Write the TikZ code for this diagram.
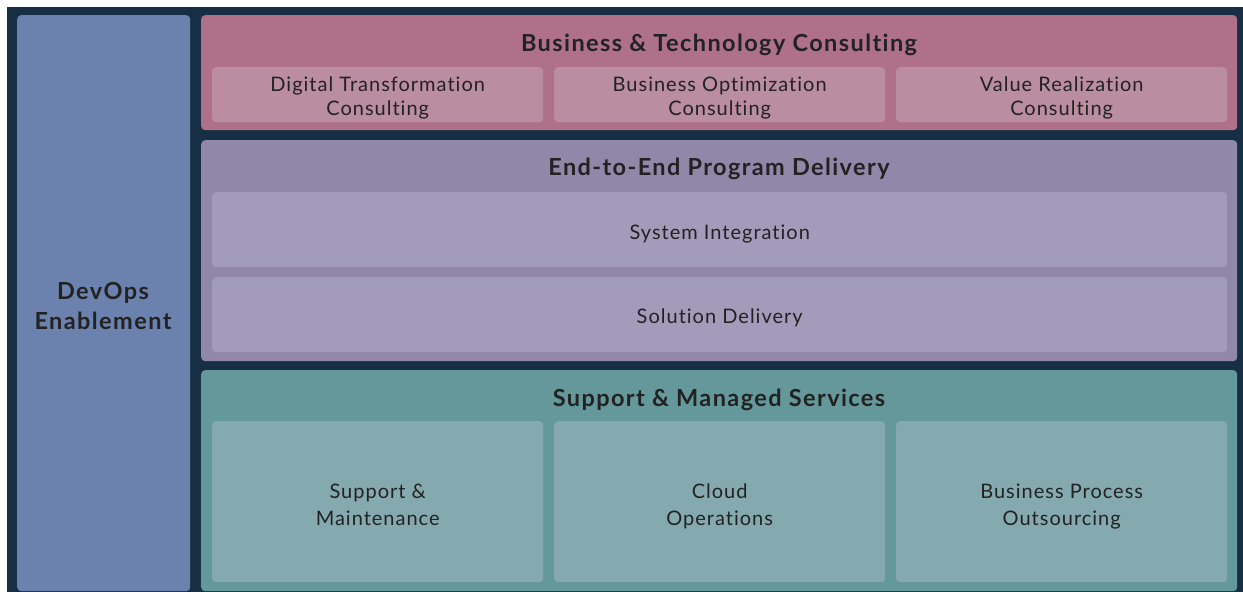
\documentclass[tikz,border=0pt]{standalone}
\usepackage{fontspec}
\setmainfont{Lato}
\newfontfamily\headfont[LetterSpace=6,Ligatures={NoCommon,NoRare,NoContextual}]{Lato}
\newfontfamily\bodyfont[LetterSpace=5,Ligatures={NoCommon,NoRare,NoContextual}]{Lato}
\definecolor{bgnavy}{HTML}{172F45}
\definecolor{devopsc}{HTML}{6C82AE}
\definecolor{pinkp}{HTML}{AE7187}
\definecolor{pinki}{HTML}{BB8DA0}
\definecolor{purpp}{HTML}{9087A9}
\definecolor{purpi}{HTML}{A29CBA}
\definecolor{tealp}{HTML}{64989A}
\definecolor{teali}{HTML}{84AAB0}
\definecolor{txt}{HTML}{222222}
\begin{document}
\begin{tikzpicture}[x=1pt,y=-1pt,
  panel/.style={rounded corners=4pt, inner sep=0pt, anchor=north west, draw=none},
  head/.style={font=\headfont\fontsize{23.5}{26}\selectfont\bfseries, text=txt, inner sep=0pt},
  lbl/.style={font=\bodyfont\fontsize{20}{24}\selectfont, text=txt, align=center, inner sep=0pt},
  lblb/.style={font=\bodyfont\fontsize{20}{27}\selectfont, text=txt, align=center, inner sep=0pt},
]
\useasboundingbox (0,0) rectangle (1243,592);
\fill[bgnavy] (7,7) rectangle (1243,592);

% DevOps column
\node[panel, fill=devopsc, minimum width=173pt, minimum height=576pt] (devops) at (17,15) {};
\node[font=\headfont\fontsize{23.5}{30}\selectfont\bfseries, text=txt, align=center, inner sep=0pt] (devopst) at (103,306) {DevOps\\Enablement};

% Business & Technology Consulting
\node[panel, fill=pinkp, minimum width=1036pt, minimum height=115pt] (btc) at (201,15) {};
\node[head] (btch) at (719,45) {Business \& Technology Consulting};
\node[panel, fill=pinki, minimum width=331pt, minimum height=55pt] (dtc) at (212,67) {};
\node[lbl] at ([yshift=-3pt]dtc.center) (dtct) {Digital Transformation\\Consulting};
\node[panel, fill=pinki, minimum width=331pt, minimum height=55pt] (boc) at (554,67) {};
\node[lbl] at ([yshift=-3pt]boc.center) (boct) {Business Optimization\\Consulting};
\node[panel, fill=pinki, minimum width=331pt, minimum height=55pt] (vrc) at (896,67) {};
\node[lbl] at ([yshift=-3pt]vrc.center) (vrct) {Value Realization\\Consulting};

% End-to-End Program Delivery
\node[panel, fill=purpp, minimum width=1036pt, minimum height=221pt] (epd) at (201,140) {};
\node[head] (epdh) at (719,169) {End-to-End Program Delivery};
\node[panel, fill=purpi, minimum width=1015pt, minimum height=75pt] (si) at (212,192) {};
\node[lbl] at ([yshift=-4pt]si.center) (sit) {System Integration};
\node[panel, fill=purpi, minimum width=1015pt, minimum height=75pt] (sd) at (212,277) {};
\node[lbl] at ([yshift=-3pt]sd.center) (sdt) {Solution Delivery};

% Support & Managed Services
\node[panel, fill=tealp, minimum width=1036pt, minimum height=221pt] (sms) at (201,370) {};
\node[head] (smsh) at (719,400) {Support \& Managed Services};
\node[panel, fill=teali, minimum width=331pt, minimum height=161pt] (sm) at (212,421) {};
\node[lblb] at ([yshift=-3pt]sm.center) (smt) {Support \&\\Maintenance};
\node[panel, fill=teali, minimum width=331pt, minimum height=161pt] (co) at (554,421) {};
\node[lblb] at ([yshift=-5pt]co.center) (cot) {Cloud\\Operations};
\node[panel, fill=teali, minimum width=331pt, minimum height=161pt] (bpo) at (896,421) {};
\node[lblb] at ([yshift=-5pt]bpo.center) (bpot) {Business Process\\Outsourcing};
\end{tikzpicture}
\end{document}
